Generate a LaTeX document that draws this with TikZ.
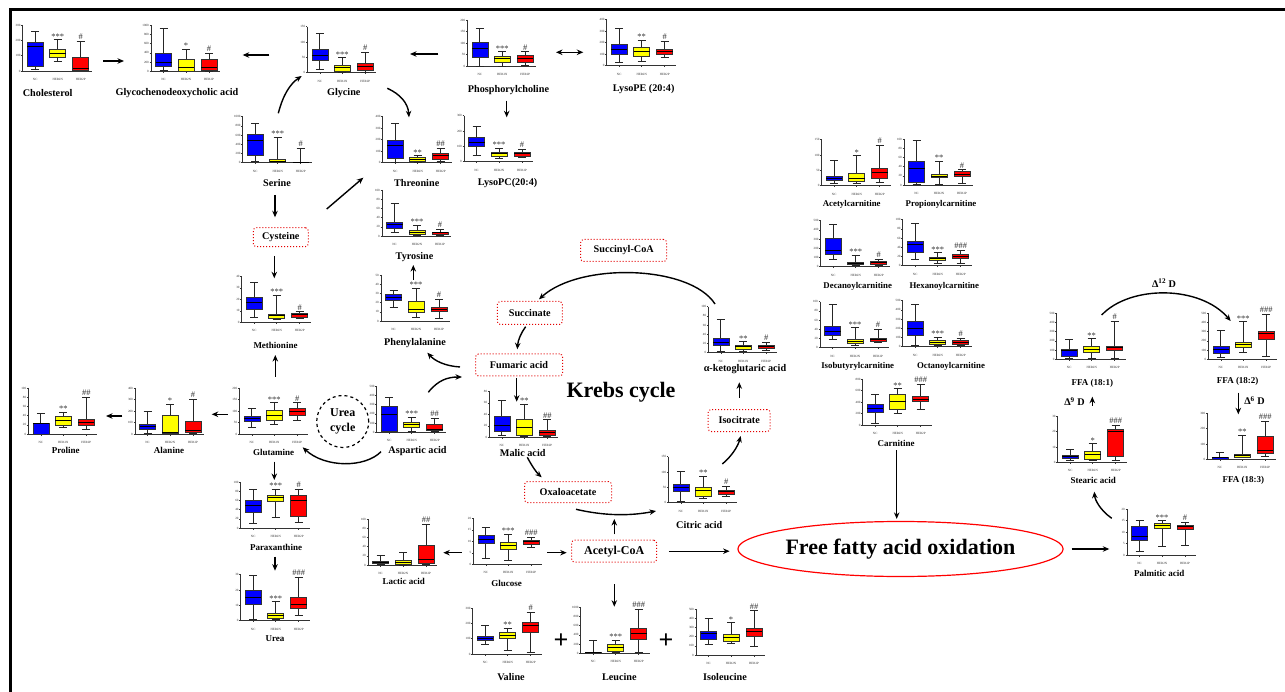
\documentclass[tikz,border=0pt]{standalone}
\usepackage{fontspec}
\setmainfont{Liberation Serif}
\usetikzlibrary{arrows.meta,calc,shapes.geometric}
\definecolor{nblue}{RGB}{0,0,255}
\definecolor{nyellow}{RGB}{255,255,0}
\definecolor{nred}{RGB}{255,0,0}
\tikzset{
 whisk/.style={line width=0.7pt, draw=black!85},
 boxs/.style={line width=0.6pt, draw=black!80},
 med/.style={line width=1pt, draw=black},
 axisl/.style={line width=0.55pt, draw=black!80},
 arr/.style={line width=1.4pt, -{Stealth[length=6.5pt,width=5.5pt]}},
 darr/.style={line width=1.4pt, {Stealth[length=6.5pt,width=5.5pt]}-{Stealth[length=6.5pt,width=5.5pt]}},
 lblA/.style={font=\bfseries\fontsize{10.2}{11}\selectfont, inner sep=0pt},
 lblB/.style={font=\bfseries\fontsize{9}{10}\selectfont, inner sep=0pt},
 lblC/.style={font=\bfseries\fontsize{8.8}{10}\selectfont, inner sep=0pt},
 tinyt/.style={font=\fontsize{3.2}{3.2}\selectfont, inner sep=0pt, text=black!80},
 sig/.style={font=\fontsize{8.5}{9}\selectfont, inner sep=0pt, text=black!80},
 rbox/.style={draw=red!90!black, dotted, line width=1pt, rounded corners=3pt, inner sep=0pt,
   font=\bfseries\fontsize{10.2}{11}\selectfont},
}
\def\bxdraw#1,#2,#3,#4,#5\relax{%
  \draw[whisk] (\cx,-46*#1) -- (\cx,-46*#2) (\cx,-46*#4) -- (\cx,-46*#5);
  \draw[whisk] (\cx-4,-46*#1) -- (\cx+4,-46*#1) (\cx-4,-46*#5) -- (\cx+4,-46*#5);
  \draw[boxs, fill=\bcol] (\cx-8,-46*#2) rectangle (\cx+8,-46*#4);
  \draw[med] (\cx-8,-46*#3) -- (\cx+8,-46*#3);
  \xdef\lasthw{#5}}
\newcommand\bplot[8]{%
\begin{scope}[shift={(#2)}]
 \coordinate (#1) at (35,-23);
 \draw[axisl] (0,-46) -- (0,0) -- (69,0);
 \foreach \t [count=\n] in {#3} {\xdef\ntk{\n}}
 \foreach \t [count=\i from 0] in {#3} {
   \pgfmathsetmacro\yy{-46*\i/(\ntk-1)}
   \draw[axisl] (-1.5,\yy) -- (0,\yy);
   \node[tinyt, anchor=east] at (-2,\yy) {\t};
 }
 \foreach \c/\l in {12.5/NC,35/HER2N,58/HER2P} {
   \draw[axisl] (\c,0) -- (\c,1.5);
   \node[tinyt] at (\c,8.5) {\l};
 }
 \def\cx{12.5}\def\bcol{nblue}\bxdraw#4\relax
 \def\cx{35}\def\bcol{nyellow}\bxdraw#5\relax
 \node[sig, anchor=south] at (35,-46*\lasthw-0.2) {#7};
 \def\cx{58}\def\bcol{nred}\bxdraw#6\relax
 \node[sig, anchor=south] at (58,-46*\lasthw-1.5) {#8};
\end{scope}}
\begin{document}
\begin{tikzpicture}[x=1pt,y=-1pt]
\useasboundingbox (0,0) rectangle (1285,692);
\fill[white] (0,0) rectangle (1285,692);
\draw[line width=2.5pt] (10.5,692) -- (10.5,9.5) -- (1285,9.5);

% ---- box plots ----
\bplot{chol}{22.7,71}{0,100,200,300}{0.04,0.11,0.54,0.62,0.87}{0.22,0.30,0.38,0.47,0.68}{0.02,0.02,0.06,0.30,0.64}{***}{\#}
\bplot{glyco}{151,71.3}{0,200,400,600,800,1000}{0.03,0.10,0.20,0.40,0.93}{0.0,0.01,0.08,0.25,0.48}{0.0,0.02,0.08,0.26,0.39}{*}{\#}
\bplot{gly}{307.3,72.7}{0,50,100,150}{0.07,0.26,0.38,0.51,0.86}{0.01,0.04,0.11,0.17,0.33}{0.01,0.06,0.14,0.20,0.44}{***}{\#}
\bplot{phos}{467.3,66}{0,50,100,150,200}{0.0,0.18,0.39,0.51,0.82}{0.0,0.08,0.16,0.20,0.31}{0.01,0.09,0.17,0.23,0.31}{***}{\#}
\bplot{lpe}{606.7,65.7}{0,100,200,300,400}{0.07,0.25,0.36,0.47,0.81}{0.09,0.21,0.30,0.39,0.56}{0.18,0.25,0.30,0.36,0.54}{**}{\#}
\bplot{ser}{242.7,162.7}{0,200,400,600,800,1000}{0.02,0.15,0.49,0.62,0.86}{0,0.01,0.02,0.07,0.55}{0,0,0.01,0.01,0.31}{***}{\#}
\bplot{thr}{382.7,162.7}{0,100,200,300,400}{0,0.09,0.37,0.48,0.86}{0.01,0.03,0.07,0.11,0.15}{0.03,0.08,0.15,0.20,0.31}{**}{\#\#}
\bplot{lpc}{464,161.7}{0,100,200,300}{0.14,0.33,0.41,0.52,0.76}{0.07,0.12,0.17,0.20,0.29}{0.09,0.12,0.17,0.20,0.27}{***}{\#}
\bplot{tyr}{382,236}{0,20,40,60,80,100}{0.08,0.17,0.24,0.29,0.71}{0.01,0.04,0.07,0.12,0.24}{0.02,0.04,0.07,0.09,0.15}{***}{\#}
\bplot{phe}{381,321}{0,10,20,30,40,50}{0.30,0.46,0.52,0.57,0.67}{0.07,0.18,0.25,0.43,0.72}{0.06,0.20,0.25,0.30,0.48}{***}{\#}
\bplot{met}{241.7,322.3}{0,10,20,30,40}{0.11,0.28,0.43,0.54,0.86}{0.07,0.09,0.14,0.17,0.59}{0.09,0.11,0.16,0.20,0.23}{***}{\#}
\bplot{gln}{239.3,434}{0,50,100,150,200}{0.15,0.28,0.33,0.38,0.55}{0.21,0.30,0.41,0.52,0.68}{0.29,0.41,0.48,0.55,0.68}{***}{\#}
\bplot{ala}{135,434}{0,100,200,300,400}{0.01,0.11,0.17,0.22,0.50}{0.01,0.02,0.04,0.41,0.65}{0.02,0.03,0.07,0.28,0.76}{*}{\#}
\bplot{pro}{28.3,434}{0,20,40,60,80,100}{0,0,0.235,0.24,0.45}{0.14,0.19,0.29,0.38,0.48}{0.10,0.18,0.25,0.32,0.79}{**}{\#\#}
\bplot{par}{240.7,528}{0,20,40,60,80,100}{0.10,0.35,0.48,0.60,0.83}{0.24,0.58,0.66,0.72,0.85}{0.12,0.25,0.60,0.72,0.85}{***}{\#}
\bplot{urea}{240.7,620.7}{0,10,20,30}{0.03,0.36,0.51,0.67,0.98}{0.03,0.06,0.11,0.17,0.41}{0.11,0.26,0.36,0.51,0.94}{***}{\#\#\#}
\bplot{asp}{376.7,432.3}{0,100,200,300,400,500}{0.01,0.03,0.39,0.57,0.76}{0.02,0.11,0.17,0.22,0.33}{0.01,0.04,0.06,0.18,0.30}{***}{\#\#}
\bplot{lac}{368,565}{0,20,40,60,80,100}{0.01,0.04,0.06,0.09,0.22}{0,0.01,0.06,0.11,0.27}{0.01,0.04,0.12,0.42,0.88}{}{\#\#}
\bplot{glc}{473.3,564.3}{0,5,10,15,20}{0.12,0.46,0.55,0.64,0.80}{0.09,0.33,0.40,0.47,0.66}{0.37,0.43,0.49,0.53,0.59}{***}{\#\#\#}
\bplot{val}{472.7,654}{0,100,200,300}{0.22,0.29,0.34,0.38,0.62}{0.07,0.35,0.41,0.47,0.56}{0.04,0.48,0.61,0.70,0.90}{**}{\#}
\bplot{leu}{580.7,653.3}{0,200,400,600,800,1000}{0,0,0.01,0.02,0.29}{0.01,0.05,0.13,0.20,0.29}{0.01,0.30,0.43,0.54,0.96}{***}{\#\#\#}
\bplot{ile}{696,655}{0,100,200,300,400,500}{0.23,0.35,0.46,0.51,0.80}{0.25,0.30,0.38,0.45,0.70}{0.18,0.40,0.51,0.59,0.96}{*}{\#\#}
\bplot{cit}{668.3,502.7}{0,50,100,150}{0.02,0.25,0.34,0.40,0.69}{0.09,0.15,0.26,0.33,0.58}{0.13,0.18,0.24,0.28,0.35}{**}{\#}
\bplot{mal}{489.3,437.3}{0,20,40,60,80}{0.05,0.14,0.25,0.46,0.80}{0.03,0.05,0.21,0.39,0.72}{0.03,0.05,0.11,0.16,0.38}{**}{\#\#}
\bplot{akg}{708.3,352.7}{0,20,40,60,80,100}{0.04,0.15,0.22,0.31,0.72}{0.04,0.08,0.13,0.17,0.24}{0.06,0.09,0.13,0.15,0.22}{**}{\#}
\bplot{acet}{821.7,185.7}{0,50,100,150}{0.05,0.11,0.15,0.21,0.56}{0.05,0.09,0.15,0.28,0.65}{0.07,0.15,0.29,0.38,0.88}{*}{\#}
\bplot{prop}{904,185}{0,20,40,60,80,100}{0.02,0.05,0.36,0.52,0.96}{0.02,0.16,0.19,0.23,0.52}{0.04,0.18,0.23,0.29,0.33}{**}{\#}
\bplot{dec}{820.7,266.7}{0,100,200,300,400,500}{0.15,0.27,0.36,0.62,0.91}{0.03,0.06,0.08,0.10,0.25}{0.04,0.06,0.09,0.12,0.16}{***}{\#}
\bplot{hex}{902.7,265.7}{0,20,40,60,80,100}{0.14,0.30,0.45,0.52,0.91}{0.05,0.12,0.15,0.19,0.28}{0.06,0.15,0.19,0.25,0.34}{***}{\#\#\#}
\bplot{iso}{820,347.7}{0,20,40,60,80,100}{0.19,0.28,0.36,0.46,0.94}{0.06,0.09,0.13,0.18,0.44}{0.11,0.13,0.17,0.20,0.40}{***}{\#}
\bplot{oct}{902.7,346.7}{0,100,200,300,400,500}{0.02,0.25,0.39,0.55,0.93}{0.04,0.06,0.09,0.13,0.21}{0.04,0.06,0.09,0.13,0.18}{***}{\#}
\bplot{car}{862.7,425}{0,200,400,600,800}{0.04,0.27,0.36,0.45,0.66}{0.25,0.34,0.50,0.66,0.79}{0.34,0.51,0.55,0.63,0.89}{**}{\#\#\#}
\bplot{f181}{1056.7,359.3}{0,100,200,300,400,500}{0.02,0.07,0.19,0.21,0.43}{0.02,0.16,0.22,0.29,0.45}{0.01,0.20,0.26,0.29,0.82}{**}{\#}
\bplot{f182}{1208.3,359.3}{0,100,200,300,400,500}{0.04,0.13,0.21,0.29,0.63}{0.15,0.26,0.32,0.36,0.82}{0.06,0.44,0.56,0.61,0.97}{***}{\#\#\#}
\bplot{f183}{1207.3,459.3}{0,100,200,300}{0,0.01,0.03,0.04,0.15}{0.04,0.05,0.08,0.11,0.53}{0.07,0.13,0.20,0.49,0.83}{**}{\#\#\#}
\bplot{ste}{1057.7,462.3}{0,10,20,30}{0.04,0.09,0.12,0.16,0.29}{0.04,0.06,0.16,0.23,0.41}{0.04,0.14,0.66,0.71,0.80}{*}{\#\#\#}
\bplot{pal}{1127,555}{0,5,10,15,20}{0.09,0.31,0.41,0.62,0.76}{0.18,0.57,0.64,0.68,0.75}{0.20,0.55,0.61,0.64,0.71}{***}{\#}

% ---- labels ----
\node[lblA] (cholL) at (47.7,93) {Cholesterol};
\node[lblA] (glycoL) at (177,93.3) {Glycochenodeoxycholic acid};
\node[lblA] (glyL) at (343.8,93.3) {Glycine};
\node[lblA] (phosL) at (508.5,90) {Phosphorylcholine};
\node[lblA] (lpeL) at (643.7,89.3) {LysoPE (20:4)};
\node[lblA] (serL) at (277,183) {Serine};
\node[lblA] (thrL) at (416.7,182.7) {Threonine};
\node[lblA] (lpcL) at (507.5,182.7) {LysoPC(20:4)};
\node[lblA] (tyrL) at (414.5,256.7) {Tyrosine};
\node[lblA] (pheL) at (415,343.3) {Phenylalanine};
\node[lblB] (metL) at (275.5,345) {Methionine};
\node[lblB] (glnL) at (273.5,452) {Glutamine};
\node[lblB] (alaL) at (169,450) {Alanine};
\node[lblB] (proL) at (65.8,450) {Proline};
\node[lblB] (parL) at (276,547.3) {Paraxanthine};
\node[lblB] (ureaL) at (275,638.3) {Urea};
\node[lblA] (aspL) at (417.5,450.7) {Aspartic acid};
\node[lblB] (lacL) at (403.8,581.7) {Lactic acid};
\node[lblB] (glcL) at (506.7,583.3) {Glucose};
\node[lblA] (valL) at (511,677.3) {Valine};
\node[lblA] (leuL) at (619.3,677.3) {Leucine};
\node[lblA] (ileL) at (725,677.3) {Isoleucine};
\node[lblA] (citL) at (699.3,525) {Citric acid};
\node[lblA] (malL) at (522.7,452.7) {Malic acid};
\node[lblA] (akgL) at (745,369.3) {α-ketoglutaric acid};
\node[lblC] (acetL) at (851.7,204.3) {Acetylcarnitine};
\node[lblC] (propL) at (941,204.3) {Propionylcarnitine};
\node[lblC] (decL) at (857.7,286.7) {Decanoylcarnitine};
\node[lblC] (hexL) at (944.3,286.7) {Hexanoylcarnitine};
\node[lblC] (isoL) at (857.7,366) {Isobutyrylcarnitine};
\node[lblC] (octL) at (951,366.7) {Octanoylcarnitine};
\node[lblB] (carL) at (896,443.3) {Carnitine};
\node[lblB] (f181L) at (1092.3,383.3) {FFA (18:1)};
\node[lblB] (f182L) at (1237.7,381.7) {FFA (18:2)};
\node[lblB] (f183L) at (1243.3,480) {FFA (18:3)};
\node[lblB] (steL) at (1093.3,480) {Stearic acid};
\node[lblB] (palL) at (1159.3,573.3) {Palmitic acid};

% ---- red dotted boxes ----
\node[rbox, minimum width=55pt, minimum height=19pt] (cys) at (280.8,237.2) {Cysteine};
\node[rbox, minimum width=86pt, minimum height=22pt] (scoa) at (623.7,250.5) {Succinyl-CoA};
\node[rbox, minimum width=65pt, minimum height=23pt] (succ) at (529.8,313) {Succinate};
\node[rbox, minimum width=87pt, minimum height=22pt] (fum) at (519,365) {Fumaric acid};
\node[rbox, minimum width=62pt, minimum height=22pt] (isoc) at (739.2,420.5) {Isocitrate};
\node[rbox, minimum width=87pt, minimum height=21pt] (oxa) at (568,492) {Oxaloacetate};
\node[rbox, minimum width=85pt, minimum height=22pt, font=\bfseries\fontsize{12}{13}\selectfont] (acoa) at (614.2,551.2) {Acetyl-CoA};

% ---- other texts ----
\node[draw, dashed, line width=1.2pt, circle, minimum size=52pt, inner sep=0pt,
      align=center, font=\bfseries\fontsize{12}{14.5}\selectfont] (urc) at (342.7,421.5) {Urea\\cycle};
\node[font=\bfseries\fontsize{22}{24}\selectfont, inner sep=0pt, anchor=base] (krebs) at (621,397.5) {Krebs cycle};
\node[draw=red, line width=1.2pt, ellipse, minimum width=291pt, minimum height=55pt, inner sep=0pt,
      font=\bfseries\fontsize{22}{24}\selectfont] (ffao) at (900.5,549) {Free fatty acid oxidation};
\node[font=\bfseries\fontsize{26}{26}\selectfont, inner sep=0pt] (plus1) at (561,641) {+};
\node[font=\bfseries\fontsize{26}{26}\selectfont, inner sep=0pt] (plus2) at (666,641) {+};
\node[lblA] (d12) at (1164,283.3) {Δ\textsuperscript{12} D};
\node[lblA] (d9) at (1074.5,401.7) {Δ\textsuperscript{9} D};
\node[lblA] (d6) at (1254.5,400.7) {Δ\textsuperscript{6} D};

% ---- connector end points ----
\coordinate (cholR) at (103.3,61);   \coordinate (glycoW) at (124,61);
\coordinate (glyW) at (269.3,55);    \coordinate (glycoE) at (242.7,55);
\coordinate (phosW) at (438.3,54);   \coordinate (glyE) at (410,54);
\coordinate (phosE) at (556,52.3);   \coordinate (lpeW) at (583.3,52.3);
\coordinate (phosS) at (506.7,100.7);\coordinate (lpcN) at (506.7,117.3);
\coordinate (serN) at (278.3,113.3); \coordinate (glySW) at (301.7,76);
\coordinate (glySE) at (387.3,88.3); \coordinate (thrN) at (409,117.3);
\coordinate (serS) at (275,195);     \coordinate (cysN) at (275,217.3);
\coordinate (cysS) at (274.3,256);   \coordinate (metN) at (274.3,278.3);
\coordinate (glnN) at (275.3,376.7); \coordinate (metS) at (275.3,355);
\coordinate (cysNE) at (326.7,209);  \coordinate (thrSW) at (363.3,177.7);
\coordinate (pheN) at (413.3,280);   \coordinate (tyrS) at (413.3,265);
\coordinate (aspNE) at (428.3,392.3);\coordinate (fumW) at (462,377);
\coordinate (fumWW) at (460,367);    \coordinate (pheSE) at (427.3,352.7);
\coordinate (aspSW) at (381,451.7);  \coordinate (glnSE) at (302.7,447.3);
\coordinate (glnW) at (227.7,414.3); \coordinate (alaE) at (211.7,414.3);
\coordinate (alaW) at (122.3,416);   \coordinate (proE) at (106,416);
\coordinate (glnS) at (274.3,461.7); \coordinate (parN) at (274.3,480);
\coordinate (parS) at (275,556.7);   \coordinate (ureaN) at (275,570.7);
\coordinate (glcW) at (461.7,552.7); \coordinate (lacE) at (443.3,552.7);
\coordinate (glcE) at (547.3,552.7); \coordinate (acoaW) at (566.7,552.7);
\coordinate (acoaU) at (614.3,519);
\coordinate (leuN) at (614.3,606.7);
\coordinate (oxaS) at (576,509.3);   \coordinate (citW) at (656,511);
\coordinate (malS) at (527.3,457.3); \coordinate (oxaNW) at (541.7,477.3);
\coordinate (citNE) at (722.3,464);  \coordinate (isocS) at (740.7,436);
\coordinate (akgS) at (739.3,382.3);
\coordinate (akgN) at (715,304);     \coordinate (succNE) at (539,299.3);
\coordinate (succS) at (525.7,326.7);\coordinate (fumN) at (517.3,349.3);
\coordinate (malN) at (516.7,401.7);
\coordinate (carS) at (896.7,450);
\coordinate (palW) at (1109.3,549);
\coordinate (palNW) at (1111.7,518.3); \coordinate (steS) at (1094.3,491.7);
\coordinate (steN) at (1092.3,406);  \coordinate (f181S) at (1092.3,396.7);
\coordinate (f181N) at (1101.7,315); \coordinate (f182N) at (1230.7,321);
\coordinate (f182S) at (1238.3,392.7); \coordinate (f183N) at (1238.3,414.3);
\coordinate (acoaN) at (614.3,534.3);
\coordinate (acoaS) at (614.3,584);

% ---- connectors ----
\draw[arr] (cholR) -- (glycoW);
\draw[arr] (glyW) -- (glycoE);
\draw[arr] (phosW) -- (glyE);
\draw[darr] (phosE) -- (lpeW);
\draw[arr] (phosS) -- (lpcN);
\draw[arr] (serN) .. controls (283,95) and (290,84) .. (glySW);
\draw[arr] (glySE) .. controls (400,94) and (408,103) .. (thrN);
\draw[arr] (serS) -- (cysN);
\draw[arr] (cysS) -- (metN);
\draw[arr] (glnN) -- (metS);
\draw[arr] (cysNE) -- (thrSW);
\draw[arr] (pheN) -- (tyrS);
\draw[arr] (aspNE) .. controls (438,380) and (448,377) .. (fumW);
\draw[arr] (fumWW) .. controls (445,366) and (435,361) .. (pheSE);
\draw[arr] (aspSW) .. controls (365,468) and (325,468) .. (glnSE);
\draw[arr] (glnW) -- (alaE);
\draw[arr] (alaW) -- (proE);
\draw[arr] (glnS) -- (parN);
\draw[arr] (parS) -- (ureaN);
\draw[arr] (glcW) -- (lacE);
\draw[arr] (glcE) -- (acoaW);
\draw[arr, shorten <=11.6pt, shorten >=7.7pt] (acoa.east) -- (acoa.east -| ffao.west);
\draw[arr] (acoaN) -- (acoaU);
\draw[arr] (acoaS) -- (leuN);
\draw[arr] (oxaS) .. controls (605,516) and (630,516) .. (citW);
\draw[arr] (malS) .. controls (532,466) and (536,472) .. (oxaNW);
\draw[arr] (citNE) .. controls (732,456) and (738,446) .. (isocS);
\draw[arr, shorten <=11pt] (isoc.north -| akgS) -- (akgS);
\draw[arr] (akgN) .. controls (690,265) and (580,262) .. (succNE);
\draw[arr] (succS) .. controls (521,333) and (518,340) .. (fumN);
\draw[arr, shorten <=2pt] (fum.south -| malN) -- (malN);
\draw[arr, shorten >=2pt] (carS) -- (carS |- ffao.north);
\draw[arr, shorten <=8pt] (ffao.east) -- (palW);
\draw[arr] (palNW) .. controls (1100,510) and (1095,500) .. (steS);
\draw[arr] (steN) -- (f181S);
\draw[arr] (f181N) .. controls (1130,285) and (1200,285) .. (f182N);
\draw[arr] (f182S) -- (f183N);
\end{tikzpicture}
\end{document}
